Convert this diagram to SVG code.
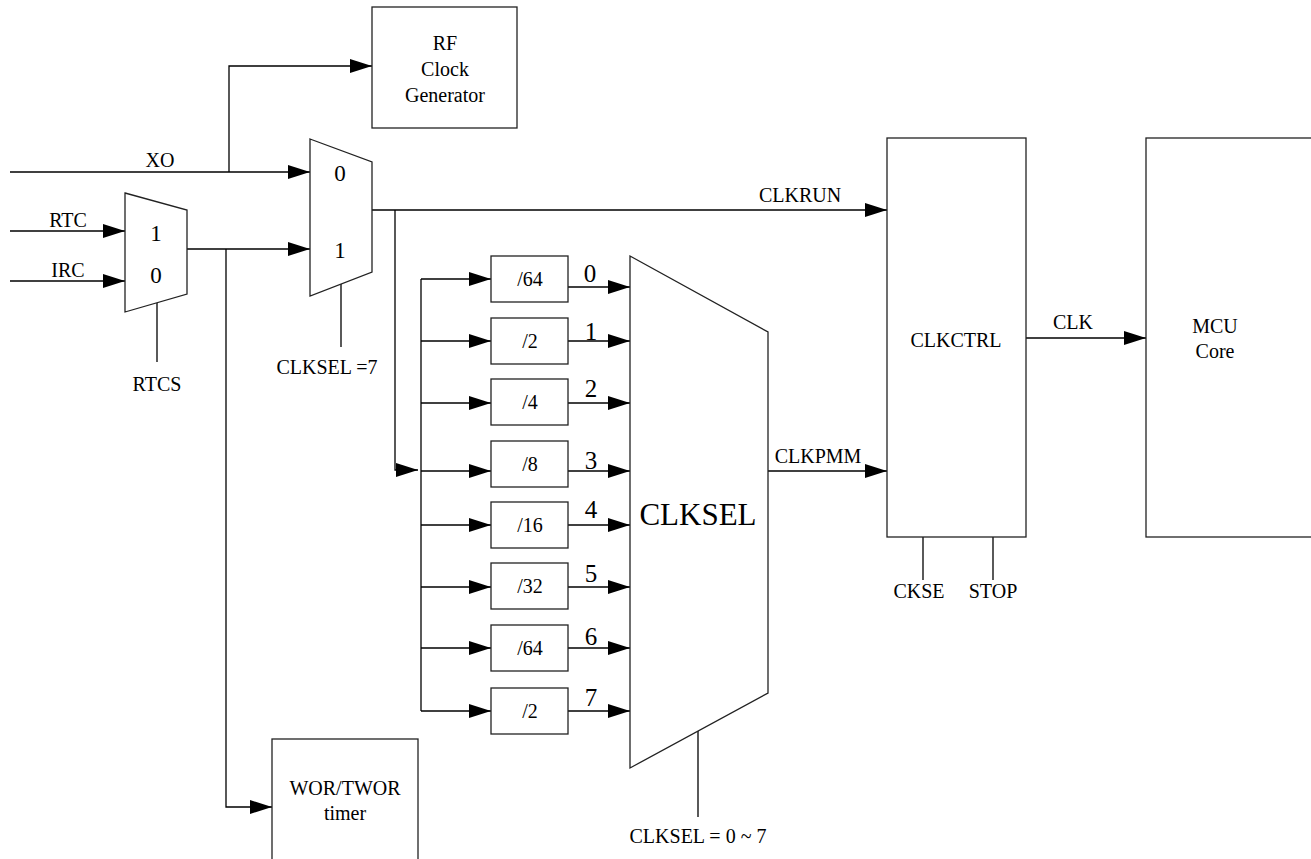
<svg xmlns="http://www.w3.org/2000/svg" width="1311" height="859" viewBox="0 0 1311 859">
<style>
text{fill:#000;font-size:20px;text-anchor:middle;font-family:"Liberation Serif","Times New Roman",Times,serif}
.box{fill:#fff;stroke:#222;stroke-width:1.3}
.w{fill:none;stroke:#000;stroke-width:1.3}
.a{marker-end:url(#ah)}
.dg{font-size:25px}
.md{font-size:23px}
.big{font-size:31px}
</style>
<defs>
<marker id="ah" markerWidth="22" markerHeight="14" refX="22" refY="7" orient="auto" markerUnits="userSpaceOnUse">
<path d="M0,0 L22,7 L0,14 Z" fill="#000"/>
</marker>
</defs>
<rect width="1311" height="859" fill="#fff"/>
<g id="connectors">
<path class="w a" d="M10,172 H310"/>
<path class="w a" d="M229,172 V66 H372"/>
<path class="w a" d="M10,231 H125"/>
<path class="w a" d="M10,281 H125"/>
<path class="w a" d="M187,249 H310"/>
<path class="w a" d="M226,249 V807 H272"/>
<path class="w" d="M157,303 V362"/>
<path class="w" d="M341,284 V347"/>
<path class="w a" d="M372,210 H887"/>
<path class="w a" d="M395,210 V470 H418"/>
<path class="w" d="M421,279 V711"/>
<path class="w a" d="M421,279 H491"/>
<path class="w a" d="M421,341 H491"/>
<path class="w a" d="M421,403 H491"/>
<path class="w a" d="M421,471 H491"/>
<path class="w a" d="M421,525 H491"/>
<path class="w a" d="M421,587 H491"/>
<path class="w a" d="M421,648 H491"/>
<path class="w a" d="M421,711 H491"/>
<path class="w a" d="M568,287 H630"/>
<path class="w a" d="M568,341 H630"/>
<path class="w a" d="M568,403 H630"/>
<path class="w a" d="M568,471 H630"/>
<path class="w a" d="M568,525 H630"/>
<path class="w a" d="M568,587 H630"/>
<path class="w a" d="M568,648 H630"/>
<path class="w a" d="M568,711 H630"/>
<path class="w" d="M698,731 V817"/>
<path class="w a" d="M768,471 H887"/>
<path class="w a" d="M1026,338 H1146"/>
<path class="w" d="M923,537 V580"/>
<path class="w" d="M993,537 V580"/>
<text x="160" y="167">XO</text>
<text x="68" y="227">RTC</text>
<text x="68" y="277">IRC</text>
<text x="157" y="391">RTCS</text>
<text x="327" y="374">CLKSEL =7</text>
<text x="800" y="202">CLKRUN</text>
<text x="818" y="463">CLKPMM</text>
<text x="1073" y="329">CLK</text>
<text x="919" y="598">CKSE</text>
<text x="993" y="598">STOP</text>
<text x="698" y="843">CLKSEL = 0 ~ 7</text>
<text class="dg" x="590" y="282">0</text>
<text class="dg" x="591" y="340">1</text>
<text class="dg" x="591" y="397">2</text>
<text class="dg" x="591" y="469">3</text>
<text class="dg" x="591" y="518">4</text>
<text class="dg" x="591" y="582">5</text>
<text class="dg" x="591" y="645">6</text>
<text class="dg" x="591" y="706">7</text>
</g>

<g id="rf-clock-generator">
<rect class="box" x="372" y="7" width="145" height="121"/>
<text x="445" y="50">RF</text>
<text x="445" y="76">Clock</text>
<text x="445" y="102">Generator</text>
</g>

<g id="mux-rtcs">
<polygon class="box" points="125,193 187,210 187,294 125,312"/>
<text class="md" x="156" y="241">1</text>
<text class="md" x="156" y="283">0</text>
</g>

<g id="mux-clksel7">
<polygon class="box" points="310,139 372,162 372,272 310,296"/>
<text class="md" x="340" y="181">0</text>
<text class="md" x="340" y="258">1</text>
</g>

<g id="div-64a"><rect class="box" x="491" y="256" width="77" height="46"/><text x="530" y="286">/64</text></g>
<g id="div-2a"><rect class="box" x="491" y="318" width="77" height="46"/><text x="530" y="348">/2</text></g>
<g id="div-4"><rect class="box" x="491" y="379" width="77" height="46"/><text x="530" y="409">/4</text></g>
<g id="div-8"><rect class="box" x="491" y="441" width="77" height="46"/><text x="530" y="471">/8</text></g>
<g id="div-16"><rect class="box" x="491" y="502" width="77" height="46"/><text x="530" y="532">/16</text></g>
<g id="div-32"><rect class="box" x="491" y="563" width="77" height="46"/><text x="530" y="593">/32</text></g>
<g id="div-64b"><rect class="box" x="491" y="625" width="77" height="46"/><text x="530" y="655">/64</text></g>
<g id="div-2b"><rect class="box" x="491" y="688" width="77" height="46"/><text x="530" y="718">/2</text></g>

<g id="clksel-mux">
<polygon class="box" points="630,256 768,332 768,693 630,768"/>
<text class="big" x="698" y="525">CLKSEL</text>
</g>

<g id="wor-timer">
<rect class="box" x="272" y="739" width="146" height="130"/>
<text x="345" y="795">WOR/TWOR</text>
<text x="345" y="820">timer</text>
</g>

<g id="clkctrl">
<rect class="box" x="887" y="138" width="139" height="399"/>
<text x="956" y="347">CLKCTRL</text>
</g>

<g id="mcu-core">
<rect class="box" x="1146" y="138" width="180" height="399"/>
<text x="1215" y="333">MCU</text>
<text x="1215" y="358">Core</text>
</g>
</svg>
